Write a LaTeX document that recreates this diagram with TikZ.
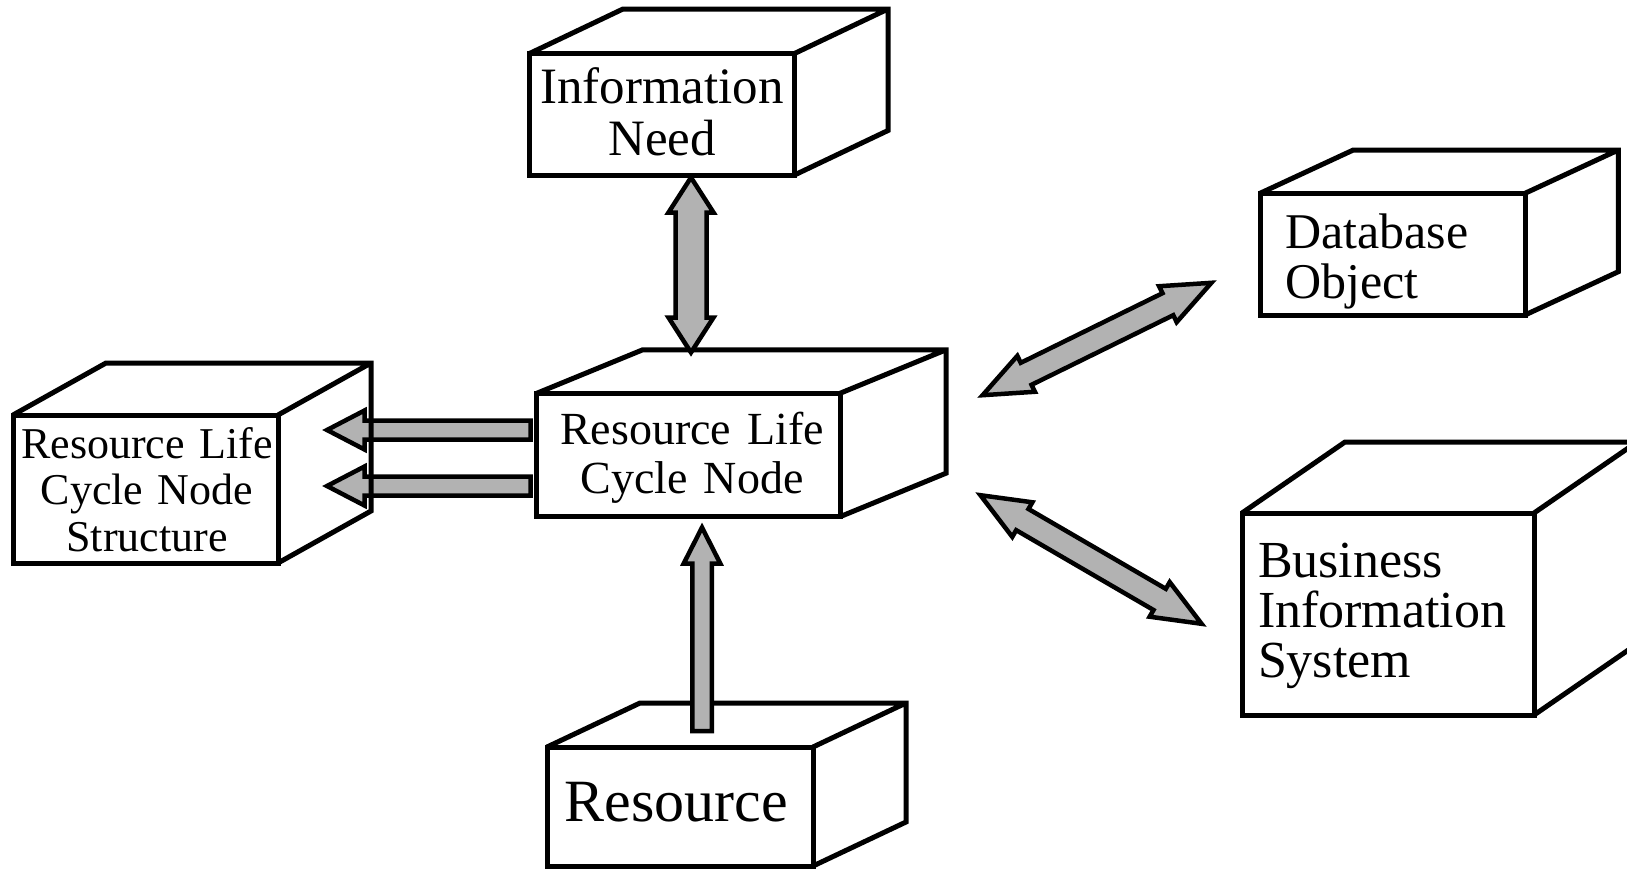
\documentclass[tikz,border=0pt]{standalone}
\usepackage{fontspec}
\setmainfont{Liberation Serif}
\usetikzlibrary{calc}

% top and side faces of a box whose front face is node #1, depth (#2,#3)
\newcommand\boxsides[3]{%
  \draw[boxline] (#1.north west) -- ++(#2,#3) -- ($(#1.north east)+(#2,#3)$)
     -- ($(#1.south east)+(#2,#3)$) -- (#1.south east)
     (#1.north east) -- ++(#2,#3);}

% broad outlined arrow with one head: tail #1, tip #2,
% shaft half width #3, head half width #4, head length #5
\newcommand\fatsingle[5]{%
  \path[fatarrow] let \p1=($(#2)-(#1)$), \n1={veclen(\x1,\y1)}, \n2={atan2(\y1,\x1)} in
    [shift={(#1)}, rotate=\n2]
    (0pt,-#3) -- (\n1-#5,-#3) -- (\n1-#5,-#4) -- (\n1,0pt) -- (\n1-#5,#4)
    -- (\n1-#5,#3) -- (0pt,#3) -- cycle;}

% broad outlined arrow with heads at both ends #1 and #2
\newcommand\fatdouble[5]{%
  \path[fatarrow] let \p1=($(#2)-(#1)$), \n1={veclen(\x1,\y1)}, \n2={atan2(\y1,\x1)} in
    [shift={(#1)}, rotate=\n2]
    (0pt,0pt) -- (#5,#4) -- (#5,#3) -- (\n1-#5,#3) -- (\n1-#5,#4) -- (\n1,0pt)
    -- (\n1-#5,-#4) -- (\n1-#5,-#3) -- (#5,-#3) -- (#5,-#4) -- cycle;}

\begin{document}
\begin{tikzpicture}[x=1pt,y=-1pt,
  face/.style={draw, line width=5pt, inner sep=0pt, outer sep=0pt, anchor=north west},
  boxline/.style={line width=5pt, line join=miter},
  fatarrow/.style={draw=black, fill=black!30, line width=4.5pt, line join=miter},
  lbl/.style={inner sep=0pt, outer sep=0pt, align=center},
  lbll/.style={inner sep=0pt, outer sep=0pt, align=left, anchor=west}]

\useasboundingbox (0,0) rectangle (1627,870);
\clip (0,0) rectangle (1627,870);

% arrows that pass behind the structure box
\coordinate (sA) at (530.5,430);
\coordinate (sAt) at (327,430);
\coordinate (sB) at (530.5,486);
\coordinate (sBt) at (327,486);
\fatsingle{sA}{sAt}{9.5pt}{19.5pt}{37.5pt}
\fatsingle{sB}{sBt}{9.5pt}{19.5pt}{37.5pt}

% front faces
\node[face, minimum width=265pt, minimum height=121.5pt] (info) at (529.5,53.5) {};
\node[face, minimum width=303.3pt, minimum height=123.4pt] (rlcn) at (536.7,393.3) {};
\node[face, minimum width=265pt, minimum height=148pt] (rlcns) at (13,415) {};
\node[face, minimum width=265pt, minimum height=121.7pt] (dbo) at (1260,193.3) {};
\node[face, minimum width=292pt, minimum height=202pt] (bis) at (1242,513) {};
\node[face, minimum width=266pt, minimum height=119pt] (res) at (547,747) {};

% top and side faces
\boxsides{info}{93.5}{-44.5}
\boxsides{rlcn}{106}{-43.5}
\boxsides{rlcns}{93}{-52}
\boxsides{dbo}{93.3}{-43.3}
\boxsides{bis}{103}{-71}
\boxsides{res}{93}{-44}

% labels
\node[lbl, font=\fontsize{51}{52}\selectfont] (infotext) at (662,111.6) {Information\\Need};
\node[lbl, font=\fontsize{46}{49}\selectfont] (rlcntext) at (692,457.5)
  {Resource\hspace{0.35em}Life\\Cycle\hspace{0.35em}Node};
\node[lbl, font=\fontsize{44}{46.5}\selectfont] (rlcnstext) at (147,489.5)
  {Resource\hspace{0.33em}Life\\Cycle\hspace{0.33em}Node\\Structure};
\node[lbll, font=\fontsize{50}{50}\selectfont] (dbotext) at (1285,261.5) {Database\\Object};
\node[lbll, font=\fontsize{52}{50}\selectfont] (bistext) at (1258,616) {Business\\Information\\System};
\node[lbl, font=\fontsize{60}{60}\selectfont] (restext) at (676,802.5) {Resource};

% remaining connectors
\coordinate (iT) at (691,177.5);
\coordinate (iB) at (691,352.5);
\fatdouble{iT}{iB}{15.5pt}{22.5pt}{35pt}

\coordinate (rT) at (702,731);
\coordinate (rH) at (702,527.5);
\fatsingle{rT}{rH}{9.75pt}{18.3pt}{36pt}

\coordinate (dL) at (982.6,395.2);
\coordinate (dR) at (1211.4,282.8);
\fatdouble{dL}{dR}{12.25pt}{20pt}{48.5pt}

\coordinate (bL) at (980.4,495.2);
\coordinate (bR) at (1201.6,623.8);
\fatdouble{bL}{bR}{12.25pt}{20pt}{48.5pt}
\end{tikzpicture}
\end{document}
